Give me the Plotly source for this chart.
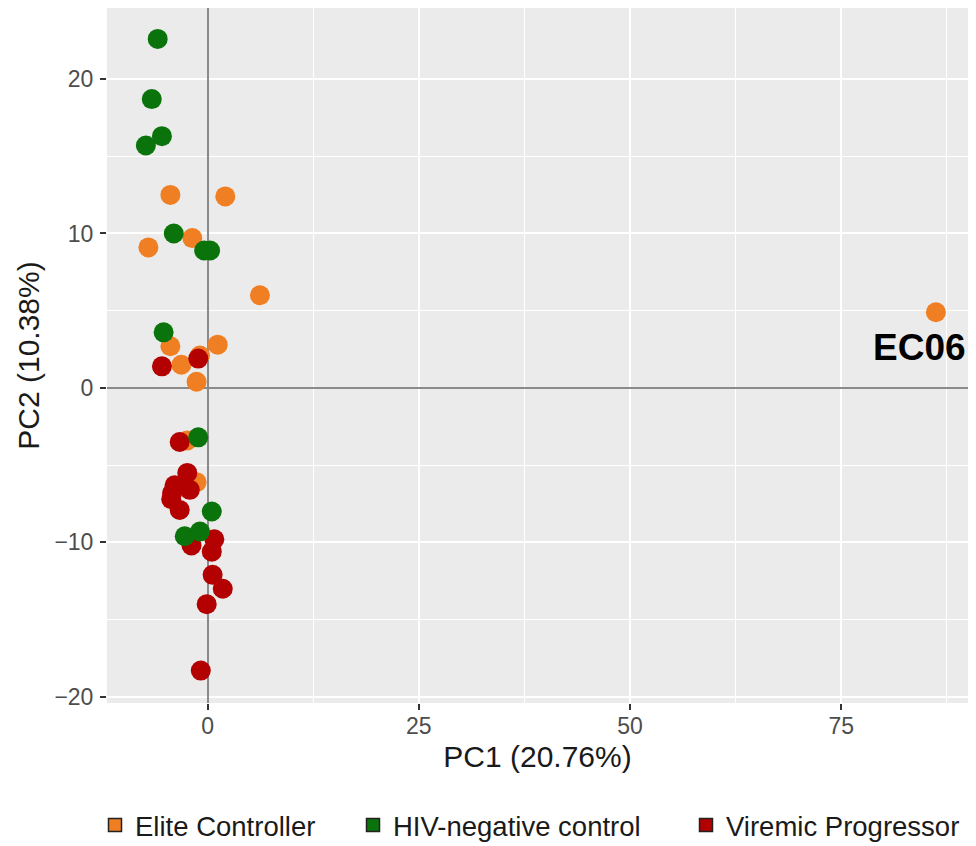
import plotly.graph_objects as go

groups = ["Elite Controller", "HIV-negative control", "Viremic Progressor"]
colors = {"Elite Controller": "#F07E22", "HIV-negative control": "#0B730B", "Viremic Progressor": "#B30000"}

ec_x = [-4.4, 2.1, -7.0, -1.8, 6.2, 86.2, -4.4, 1.2, -0.9, -3.1, -1.3, -2.4, -1.3]
ec_y = [12.5, 12.4, 9.1, 9.7, 6.0, 4.9, 2.7, 2.8, 2.1, 1.5, 0.4, -3.4, -6.1]

vp_x = [-5.4, -1.1, -3.3, -2.4, -3.9, -2.1, -4.3, -3.3, -4.2, -1.9, 0.8, 0.5, 0.6, 1.8, -0.1, -0.8]
vp_y = [1.4, 1.9, -3.5, -5.5, -6.3, -6.6, -7.2, -7.9, -6.8, -10.2, -9.8, -10.6, -12.1, -13.0, -14.0, -18.3]

hn_x = [-5.9, -6.6, -5.4, -7.3, -4.0, -0.4, 0.3, -5.2, -1.1, 0.5, -2.7, -0.9]
hn_y = [22.6, 18.7, 16.3, 15.7, 10.0, 8.9, 8.9, 3.6, -3.2, -8.0, -9.6, -9.3]

label_text = "EC06"
label_x = 86.2
label_y = 4.9

x_ticks = [0, 25, 50, 75]
y_ticks = [-20, -10, 0, 10, 20]

FONT = "Liberation Sans, Arial, Helvetica, sans-serif"
# the page body adds an 8px margin, so the figure is drawn 8px in from the window corner
W, H = 960, 838

fig = go.Figure()

series = [
    ("Elite Controller", ec_x, ec_y),
    ("Viremic Progressor", vp_x, vp_y),
    ("HIV-negative control", hn_x, hn_y),
]
for name, xs, ys in series:
    fig.add_trace(go.Scatter(
        x=xs, y=ys, mode="markers", name=name, showlegend=False,
        marker=dict(size=20, color=colors[name], line=dict(width=0)),
        hoverinfo="x+y+name",
    ))

legend_ids = ["legend", "legend2", "legend3"]
legend_left_px = [87, 345, 678]
for name, lid in zip(groups, legend_ids):
    fig.add_trace(go.Scatter(
        x=[None], y=[None], mode="markers", name=name, showlegend=True, legend=lid,
        marker=dict(size=13, symbol="square", color=colors[name],
                    line=dict(width=1.5, color="#222222")),
    ))

fig.add_annotation(
    x=label_x, y=label_y, text="<b>%s</b>" % label_text, showarrow=False,
    xshift=-16, yshift=-35, font=dict(size=37, color="black", family=FONT),
)

axis_common = dict(
    showgrid=True, gridcolor="white", gridwidth=2.2,
    zeroline=True, zerolinecolor="#8A8A8A", zerolinewidth=1.5,
    ticks="outside", ticklen=6, tickwidth=2, tickcolor="#333333",
    showline=False, automargin=False,
)

fig.update_xaxes(
    range=[-11.9, 90.0], tickvals=x_ticks, ticktext=[str(v) for v in x_ticks],
    tickfont=dict(size=23, color="#4D4D4D", family=FONT), ticklabelstandoff=-4,
    minor=dict(showgrid=True, gridcolor="white", gridwidth=1.1, dtick=12.5, tick0=12.5, ticks=""),
    title=dict(text="PC1 (20.76%)", font=dict(size=30, color="#1a1a1a", family=FONT), standoff=8),
    **axis_common,
)
fig.update_yaxes(
    range=[-20.4, 24.6], tickvals=y_ticks, ticktext=["\u221220", "\u221210", "0", "10", "20"],
    tickfont=dict(size=23, color="#4D4D4D", family=FONT), ticklabelstandoff=2,
    minor=dict(showgrid=True, gridcolor="white", gridwidth=1.1, dtick=5, tick0=5, ticks=""),
    title=dict(text="PC2 (10.38%)", font=dict(size=30, color="#1a1a1a", family=FONT), standoff=5),
    **axis_common,
)

legend_common = dict(
    orientation="h", xref="container", yref="container",
    xanchor="left", yanchor="middle", y=1 - 817 / H,
    font=dict(size=27.5, color="#1a1a1a", family=FONT),
    itemsizing="trace", bgcolor="rgba(0,0,0,0)",
)

fig.update_layout(
    width=W, height=H,
    margin=dict(l=99, r=0, t=0, b=H - 695),
    plot_bgcolor="#EBEBEB", paper_bgcolor="white",
    font=dict(family=FONT),
    legend=dict(x=legend_left_px[0] / W, **legend_common),
    legend2=dict(x=legend_left_px[1] / W, **legend_common),
    legend3=dict(x=legend_left_px[2] / W, **legend_common),
)

fig.write_html("out.html")
